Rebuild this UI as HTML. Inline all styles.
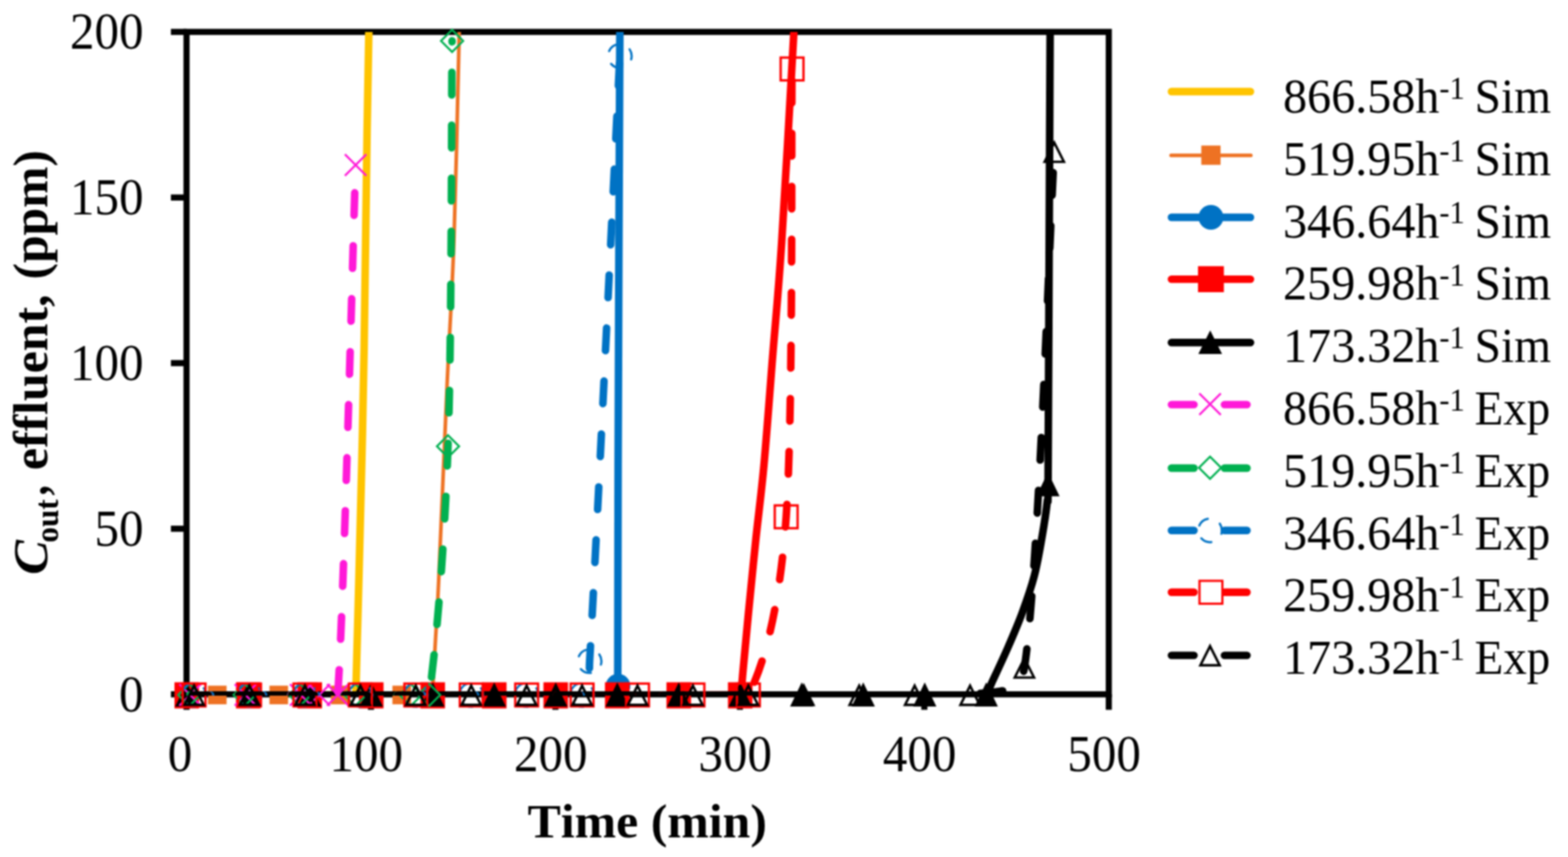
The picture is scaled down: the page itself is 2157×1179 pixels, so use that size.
<!DOCTYPE html>
<html lang="en"><head><meta charset="utf-8"><title>Breakthrough curves</title>
<style>html,body{margin:0;padding:0;background:#fff}body{width:2157px;height:1179px;overflow:hidden}svg{display:block;filter:blur(0.9px)}text{font-family:"Liberation Serif",serif;fill:#000;font-kerning:none;font-variant-ligatures:none}</style></head><body>
<svg width="2157" height="1179" viewBox="0 0 2157 1179" role="img" aria-label="Breakthrough curves: effluent concentration versus time">
<defs><clipPath id="pa"><rect x="256.6" y="43.9" width="1270.7" height="913.2"/></clipPath></defs>
<rect width="2157" height="1179" fill="#fff"/>
<g stroke="#000" stroke-width="8.4" fill="none" stroke-linecap="butt">
<rect x="256.6" y="43.9" width="1268.7" height="911.3"/>
<line x1="235.1" y1="955.2" x2="256.6" y2="955.2"/>
<line x1="235.1" y1="727.38" x2="256.6" y2="727.38"/>
<line x1="235.1" y1="499.55" x2="256.6" y2="499.55"/>
<line x1="235.1" y1="271.73" x2="256.6" y2="271.73"/>
<line x1="235.1" y1="43.9" x2="256.6" y2="43.9"/>
<line x1="256.6" y1="955.2" x2="256.6" y2="976.5"/>
<line x1="510.34" y1="955.2" x2="510.34" y2="976.5"/>
<line x1="764.08" y1="955.2" x2="764.08" y2="976.5"/>
<line x1="1017.82" y1="955.2" x2="1017.82" y2="976.5"/>
<line x1="1271.56" y1="955.2" x2="1271.56" y2="976.5"/>
<line x1="1525.3" y1="955.2" x2="1525.3" y2="976.5"/>
</g>
<text transform="translate(163.673 978.605) scale(0.991 1.046)" font-size="68">0</text>
<text transform="translate(129.979 750.78) scale(0.991 1.046)" font-size="68">50</text>
<text transform="translate(96.285 522.955) scale(0.991 1.046)" font-size="68">100</text>
<text transform="translate(96.285 295.13) scale(0.991 1.046)" font-size="68">150</text>
<text transform="translate(96.285 67.305) scale(0.991 1.046)" font-size="68">200</text>
<text transform="translate(230.853 1060.702) scale(0.991 1.05)" font-size="68">0</text>
<text transform="translate(453.299 1060.702) scale(0.991 1.05)" font-size="68">100</text>
<text transform="translate(707.039 1060.702) scale(0.991 1.05)" font-size="68">200</text>
<text transform="translate(960.779 1060.702) scale(0.991 1.05)" font-size="68">300</text>
<text transform="translate(1214.519 1060.702) scale(0.991 1.05)" font-size="68">400</text>
<text transform="translate(1468.259 1060.702) scale(0.991 1.05)" font-size="68">500</text>
<text transform="translate(725.729 1151.713) scale(1.008 0.973)" font-size="68" font-weight="bold">Time (min)</text>
<text transform="translate(65.3 0) rotate(-90) scale(1 1)" font-size="68" font-weight="bold"><tspan x="-790.649" textLength="47.784" lengthAdjust="spacingAndGlyphs" font-weight="bold" font-style="italic">C</tspan><tspan x="-746.429" textLength="59.417" lengthAdjust="spacingAndGlyphs" dy="14.3" font-size="47">out</tspan><tspan x="-681.756" textLength="28.682" lengthAdjust="spacingAndGlyphs" dy="-14.3">, </tspan><tspan x="-646.742" textLength="258.781" lengthAdjust="spacingAndGlyphs">effluent, </tspan><tspan x="-384.599" textLength="178.198" lengthAdjust="spacingAndGlyphs">(ppm)</tspan></text>
<path clip-path="url(#pa)" d="M256.6 956.1C280.5 956.1 362.77 956.1 400 956.1C437.23 956.1 465.12 955.78 480 956.1C494.88 956.42 487.63 961.52 489.3 958C490.97 954.48 489.25 962.55 490 935C490.75 907.45 492.53 841.87 493.8 792.7C495.07 743.53 496.42 692.12 497.6 640C498.78 587.88 499.67 556.67 500.9 480C502.13 403.33 503.92 252.68 505 180C506.08 107.32 506.9 73.9 507.4 43.9C507.9 13.9 507.9 7.32 508 0" fill="none" stroke="#FFC400" stroke-width="10.4" stroke-linejoin="round" stroke-linecap="round"/>
<path clip-path="url(#pa)" d="M256.6 956.1C297.17 956.1 445.27 956.1 500 956.1C554.73 956.1 569.25 955.78 585 956.1C600.75 956.42 592.67 961.52 594.5 958C596.33 954.48 595.25 947.77 596 935C596.75 922.23 597.77 903.9 599 881.4C600.23 858.9 600.73 858.57 603.4 800C606.07 741.43 611.48 608.33 615 530C618.52 451.67 621.73 410 624.5 330C627.27 250 630.3 105 631.6 50C632.9 -5 632.18 8.33 632.3 0" fill="none" stroke="#EE7223" stroke-width="5" stroke-linejoin="round" stroke-linecap="round"/>
<rect x="243.8" y="943.3" width="25.6" height="25.6" fill="#EE7223"/>
<rect x="286.09" y="943.3" width="25.6" height="25.6" fill="#EE7223"/>
<rect x="328.38" y="943.3" width="25.6" height="25.6" fill="#EE7223"/>
<rect x="370.67" y="943.3" width="25.6" height="25.6" fill="#EE7223"/>
<rect x="412.96" y="943.3" width="25.6" height="25.6" fill="#EE7223"/>
<rect x="455.25" y="943.3" width="25.6" height="25.6" fill="#EE7223"/>
<rect x="497.54" y="943.3" width="25.6" height="25.6" fill="#EE7223"/>
<rect x="539.83" y="943.3" width="25.6" height="25.6" fill="#EE7223"/>
<rect x="582.12" y="943.3" width="25.6" height="25.6" fill="#EE7223"/>
<path clip-path="url(#pa)" d="M256.6 956.1L849.6 956.1L849.8 944L850.3 640L851.4 340L852.7 43.9L852.9 0" fill="none" stroke="#0072C4" stroke-width="10.4" stroke-linejoin="round" stroke-linecap="round"/>
<circle cx="256.9" cy="956.1" r="17" fill="#0072C4"/>
<circle cx="341.5" cy="956.1" r="17" fill="#0072C4"/>
<circle cx="426.1" cy="956.1" r="17" fill="#0072C4"/>
<circle cx="510.7" cy="956.1" r="17" fill="#0072C4"/>
<circle cx="595.3" cy="956.1" r="17" fill="#0072C4"/>
<circle cx="679.9" cy="956.1" r="17" fill="#0072C4"/>
<circle cx="764.5" cy="956.1" r="17" fill="#0072C4"/>
<circle cx="850.2" cy="944" r="17" fill="#0072C4"/>
<path clip-path="url(#pa)" d="M256.6 956.1C363.83 956.1 774.43 956.1 900 956.1C1025.57 956.1 990.12 955.78 1010 956.1C1029.88 956.42 1017.52 960.68 1019.3 958C1021.08 955.32 1020.18 946.33 1020.7 940C1021.22 933.67 1020.92 936.07 1022.4 920C1023.88 903.93 1026.7 873.3 1029.6 843.6C1032.5 813.9 1036.25 775.73 1039.8 741.8C1043.35 707.87 1047.08 681.52 1050.9 640C1054.72 598.48 1058.65 543.53 1062.7 492.7C1066.75 441.87 1070.3 409.8 1075.2 335C1080.1 260.2 1088.97 99.73 1092.1 43.9C1095.23 -11.93 1093.68 7.32 1094 0" fill="none" stroke="#FF0000" stroke-width="10.4" stroke-linejoin="round" stroke-linecap="round"/>
<rect x="240" y="938.6" width="33.8" height="36" fill="#FF0000"/>
<rect x="324.6" y="938.6" width="33.8" height="36" fill="#FF0000"/>
<rect x="409.2" y="938.6" width="33.8" height="36" fill="#FF0000"/>
<rect x="493.8" y="938.6" width="33.8" height="36" fill="#FF0000"/>
<rect x="578.4" y="938.6" width="33.8" height="36" fill="#FF0000"/>
<rect x="663" y="938.6" width="33.8" height="36" fill="#FF0000"/>
<rect x="747.6" y="938.6" width="33.8" height="36" fill="#FF0000"/>
<rect x="832.2" y="938.6" width="33.8" height="36" fill="#FF0000"/>
<rect x="916.8" y="938.6" width="33.8" height="36" fill="#FF0000"/>
<rect x="1001.4" y="938.6" width="33.8" height="36" fill="#FF0000"/>
<path clip-path="url(#pa)" d="M256.6 956.1C413.83 956.1 1019.43 956.1 1200 956.1C1380.57 956.1 1313.93 956.1 1340 956.1C1366.07 956.1 1352.4 958.78 1356.4 956.1C1360.4 953.42 1359.07 950.68 1364 940C1368.93 929.32 1379 908.07 1386 892C1393 875.93 1399.88 860.15 1406 843.6C1412.12 827.05 1418.22 809.67 1422.7 792.7C1427.18 775.73 1429.93 758.77 1432.9 741.8C1435.87 724.83 1439.02 705.37 1440.5 690.9C1441.98 676.43 1441.33 715.15 1441.8 655C1442.27 594.85 1442.83 431.85 1443.3 330C1443.77 228.15 1444.35 98.9 1444.6 43.9C1444.85 -11.1 1444.77 7.32 1444.8 0" fill="none" stroke="#000000" stroke-width="10.4" stroke-linejoin="round" stroke-linecap="round"/>
<path d="M256.9 938.74L272.9 971.94L240.9 971.94Z" fill="#000000"/>
<path d="M341.5 938.74L357.5 971.94L325.5 971.94Z" fill="#000000"/>
<path d="M426.1 938.74L442.1 971.94L410.1 971.94Z" fill="#000000"/>
<path d="M510.7 938.74L526.7 971.94L494.7 971.94Z" fill="#000000"/>
<path d="M595.3 938.74L611.3 971.94L579.3 971.94Z" fill="#000000"/>
<path d="M679.9 938.74L695.9 971.94L663.9 971.94Z" fill="#000000"/>
<path d="M764.5 938.74L780.5 971.94L748.5 971.94Z" fill="#000000"/>
<path d="M849.1 938.74L865.1 971.94L833.1 971.94Z" fill="#000000"/>
<path d="M933.7 938.74L949.7 971.94L917.7 971.94Z" fill="#000000"/>
<path d="M1018.3 938.74L1034.3 971.94L1002.3 971.94Z" fill="#000000"/>
<path d="M1102.9 938.74L1118.9 971.94L1086.9 971.94Z" fill="#000000"/>
<path d="M1187.5 938.74L1203.5 971.94L1171.5 971.94Z" fill="#000000"/>
<path d="M1272.1 938.74L1288.1 971.94L1256.1 971.94Z" fill="#000000"/>
<path d="M1356.7 938.74L1372.7 971.94L1340.7 971.94Z" fill="#000000"/>
<path d="M1441.6 649.64L1457.6 682.84L1425.6 682.84Z" fill="#000000"/>
<path clip-path="url(#pa)" d="M261.5 956.1C274.19 956.1 312.25 956.1 337.63 956.1C363.01 956.1 396.83 956.1 413.76 956.1C426.48 956.1 430.73 956.1 439.2 956.1C447.67 956.1 463.73 968.77 464.6 956.1C472.93 834.6 485.1 348.6 489.2 227.1" fill="none" stroke="#FF18D8" stroke-width="10.4" stroke-linejoin="round" stroke-linecap="round" stroke-dasharray="31 41.9" stroke-dashoffset="7.35"/>
<path d="M246.75 941.35L276.25 970.85M246.75 970.85L276.25 941.35" fill="none" stroke="#FF18D8" stroke-width="2.8"/>
<path d="M322.88 941.35L352.38 970.85M322.88 970.85L352.38 941.35" fill="none" stroke="#FF18D8" stroke-width="2.8"/>
<path d="M399.01 941.35L428.51 970.85M399.01 970.85L428.51 941.35" fill="none" stroke="#FF18D8" stroke-width="2.8"/>
<path d="M424.45 941.35L453.95 970.85M424.45 970.85L453.95 941.35" fill="none" stroke="#FF18D8" stroke-width="2.8"/>
<path d="M449.85 941.35L479.35 970.85M449.85 970.85L479.35 941.35" fill="none" stroke="#FF18D8" stroke-width="2.8"/>
<path d="M474.45 212.35L503.95 241.85M474.45 241.85L503.95 212.35" fill="none" stroke="#FF18D8" stroke-width="2.8"/>
<path clip-path="url(#pa)" d="M260.4 956.1C273.09 956.1 311.15 956.1 336.53 956.1C361.91 956.1 387.28 956.1 412.66 956.1C438.04 956.1 463.41 956.1 488.79 956.1C514.17 956.1 548 956.1 564.92 956.1C577.61 956.1 588.42 968.65 590.3 956.1C598.86 899.08 611.03 763.98 616.3 614C621.57 464.02 620.97 149.17 621.9 56.2" fill="none" stroke="#00B050" stroke-width="10.4" stroke-linejoin="round" stroke-linecap="round" stroke-dasharray="31 41.9" stroke-dashoffset="5.6"/>
<path d="M260.4 940.85L275.65 956.1L260.4 971.35L245.15 956.1Z" fill="none" stroke="#00B050" stroke-width="2.8"/>
<path d="M336.53 940.85L351.78 956.1L336.53 971.35L321.28 956.1Z" fill="none" stroke="#00B050" stroke-width="2.8"/>
<path d="M412.66 940.85L427.91 956.1L412.66 971.35L397.41 956.1Z" fill="none" stroke="#00B050" stroke-width="2.8"/>
<path d="M488.79 940.85L504.04 956.1L488.79 971.35L473.54 956.1Z" fill="none" stroke="#00B050" stroke-width="2.8"/>
<path d="M564.92 940.85L580.17 956.1L564.92 971.35L549.67 956.1Z" fill="none" stroke="#00B050" stroke-width="2.8"/>
<path d="M590.3 940.85L605.55 956.1L590.3 971.35L575.05 956.1Z" fill="none" stroke="#00B050" stroke-width="2.8"/>
<path d="M616.3 598.75L631.55 614L616.3 629.25L601.05 614Z" fill="none" stroke="#00B050" stroke-width="2.8"/>
<path d="M621.9 40.95L637.15 56.2L621.9 71.45L606.65 56.2Z" fill="none" stroke="#00B050" stroke-width="2.8"/>
<path clip-path="url(#pa)" d="M267 956.1C279.71 956.1 317.83 956.1 343.25 956.1C368.67 956.1 394.08 956.1 419.5 956.1C444.92 956.1 470.33 956.1 495.75 956.1C521.17 956.1 546.58 956.1 572 956.1C597.42 956.1 622.83 956.1 648.25 956.1C673.67 956.1 699.08 956.1 724.5 956.1C749.92 956.1 786.32 963.85 800.75 956.1C815.18 948.35 809.69 933.38 811.1 909.6C819.76 763.08 845.77 215.77 852.7 77" fill="none" stroke="#0072C4" stroke-width="10.4" stroke-linejoin="round" stroke-linecap="round" stroke-dasharray="31 41.9" stroke-dashoffset="8.29"/>
<circle cx="267" cy="956.1" r="16.25" fill="none" stroke="#0072C4" stroke-width="3" stroke-dasharray="15.32 18.72" stroke-dashoffset="10.49" stroke-linecap="round"/>
<circle cx="343.25" cy="956.1" r="16.25" fill="none" stroke="#0072C4" stroke-width="3" stroke-dasharray="15.32 18.72" stroke-dashoffset="10.49" stroke-linecap="round"/>
<circle cx="419.5" cy="956.1" r="16.25" fill="none" stroke="#0072C4" stroke-width="3" stroke-dasharray="15.32 18.72" stroke-dashoffset="10.49" stroke-linecap="round"/>
<circle cx="495.75" cy="956.1" r="16.25" fill="none" stroke="#0072C4" stroke-width="3" stroke-dasharray="15.32 18.72" stroke-dashoffset="10.49" stroke-linecap="round"/>
<circle cx="572" cy="956.1" r="16.25" fill="none" stroke="#0072C4" stroke-width="3" stroke-dasharray="15.32 18.72" stroke-dashoffset="10.49" stroke-linecap="round"/>
<circle cx="648.25" cy="956.1" r="16.25" fill="none" stroke="#0072C4" stroke-width="3" stroke-dasharray="15.32 18.72" stroke-dashoffset="10.49" stroke-linecap="round"/>
<circle cx="724.5" cy="956.1" r="16.25" fill="none" stroke="#0072C4" stroke-width="3" stroke-dasharray="15.32 18.72" stroke-dashoffset="10.49" stroke-linecap="round"/>
<circle cx="800.75" cy="956.1" r="16.25" fill="none" stroke="#0072C4" stroke-width="3" stroke-dasharray="15.32 18.72" stroke-dashoffset="10.49" stroke-linecap="round"/>
<circle cx="811.1" cy="909.6" r="16.25" fill="none" stroke="#0072C4" stroke-width="3" stroke-dasharray="15.32 18.72" stroke-dashoffset="10.49" stroke-linecap="round"/>
<circle cx="852.7" cy="77" r="16.25" fill="none" stroke="#0072C4" stroke-width="3" stroke-dasharray="15.32 18.72" stroke-dashoffset="10.49" stroke-linecap="round"/>
<path clip-path="url(#pa)" d="M267 956.1C279.71 956.1 317.83 956.1 343.25 956.1C368.67 956.1 394.08 956.1 419.5 956.1C444.92 956.1 470.33 956.1 495.75 956.1C521.17 956.1 546.58 956.1 572 956.1C597.42 956.1 622.83 956.1 648.25 956.1C673.67 956.1 699.08 956.1 724.5 956.1C749.92 956.1 775.33 956.1 800.75 956.1C826.17 956.1 851.58 956.1 877 956.1C902.42 956.1 927.83 956.1 953.25 956.1C978.67 956.1 1011.82 989.88 1029.5 956.1C1050.88 915.25 1072.78 835.97 1081.5 711C1091.52 567.47 1088.25 197.58 1089.6 94.9" fill="none" stroke="#FF0000" stroke-width="10.4" stroke-linejoin="round" stroke-linecap="round" stroke-dasharray="31 41.9" stroke-dashoffset="11.43"/>
<rect x="251.3" y="940.4" width="31.4" height="31.4" fill="none" stroke="#FF0000" stroke-width="3.2"/>
<rect x="327.55" y="940.4" width="31.4" height="31.4" fill="none" stroke="#FF0000" stroke-width="3.2"/>
<rect x="403.8" y="940.4" width="31.4" height="31.4" fill="none" stroke="#FF0000" stroke-width="3.2"/>
<rect x="480.05" y="940.4" width="31.4" height="31.4" fill="none" stroke="#FF0000" stroke-width="3.2"/>
<rect x="556.3" y="940.4" width="31.4" height="31.4" fill="none" stroke="#FF0000" stroke-width="3.2"/>
<rect x="632.55" y="940.4" width="31.4" height="31.4" fill="none" stroke="#FF0000" stroke-width="3.2"/>
<rect x="708.8" y="940.4" width="31.4" height="31.4" fill="none" stroke="#FF0000" stroke-width="3.2"/>
<rect x="785.05" y="940.4" width="31.4" height="31.4" fill="none" stroke="#FF0000" stroke-width="3.2"/>
<rect x="861.3" y="940.4" width="31.4" height="31.4" fill="none" stroke="#FF0000" stroke-width="3.2"/>
<rect x="937.55" y="940.4" width="31.4" height="31.4" fill="none" stroke="#FF0000" stroke-width="3.2"/>
<rect x="1013.8" y="940.4" width="31.4" height="31.4" fill="none" stroke="#FF0000" stroke-width="3.2"/>
<rect x="1065.8" y="695.3" width="31.4" height="31.4" fill="none" stroke="#FF0000" stroke-width="3.2"/>
<rect x="1073.9" y="79.2" width="31.4" height="31.4" fill="none" stroke="#FF0000" stroke-width="3.2"/>
<path clip-path="url(#pa)" d="M267 956.1C279.71 956.1 317.83 956.1 343.25 956.1C368.67 956.1 394.08 956.1 419.5 956.1C444.92 956.1 470.33 956.1 495.75 956.1C521.17 956.1 546.58 956.1 572 956.1C597.42 956.1 622.83 956.1 648.25 956.1C673.67 956.1 699.08 956.1 724.5 956.1C749.92 956.1 775.33 956.1 800.75 956.1C826.17 956.1 851.58 956.1 877 956.1C902.42 956.1 927.83 956.1 953.25 956.1C978.67 956.1 1004.08 956.1 1029.5 956.1C1054.92 956.1 1080.33 956.1 1105.75 956.1C1131.17 956.1 1156.58 956.1 1182 956.1C1207.42 956.1 1232.83 956.1 1258.25 956.1C1283.67 956.1 1309.34 962.37 1334.5 956.1C1359.66 949.83 1402.8 959.82 1409.2 918.5C1428.5 793.98 1443.45 327.25 1450.3 209" fill="none" stroke="#000000" stroke-width="10.4" stroke-linejoin="round" stroke-linecap="round" stroke-dasharray="31 41.9" stroke-dashoffset="11.56"/>
<path d="M267 943.4L280.25 969.7L253.75 969.7Z" fill="none" stroke="#000000" stroke-width="3.4" stroke-linejoin="miter"/>
<path d="M343.25 943.4L356.5 969.7L330 969.7Z" fill="none" stroke="#000000" stroke-width="3.4" stroke-linejoin="miter"/>
<path d="M419.5 943.4L432.75 969.7L406.25 969.7Z" fill="none" stroke="#000000" stroke-width="3.4" stroke-linejoin="miter"/>
<path d="M495.75 943.4L509 969.7L482.5 969.7Z" fill="none" stroke="#000000" stroke-width="3.4" stroke-linejoin="miter"/>
<path d="M572 943.4L585.25 969.7L558.75 969.7Z" fill="none" stroke="#000000" stroke-width="3.4" stroke-linejoin="miter"/>
<path d="M648.25 943.4L661.5 969.7L635 969.7Z" fill="none" stroke="#000000" stroke-width="3.4" stroke-linejoin="miter"/>
<path d="M724.5 943.4L737.75 969.7L711.25 969.7Z" fill="none" stroke="#000000" stroke-width="3.4" stroke-linejoin="miter"/>
<path d="M800.75 943.4L814 969.7L787.5 969.7Z" fill="none" stroke="#000000" stroke-width="3.4" stroke-linejoin="miter"/>
<path d="M877 943.4L890.25 969.7L863.75 969.7Z" fill="none" stroke="#000000" stroke-width="3.4" stroke-linejoin="miter"/>
<path d="M953.25 943.4L966.5 969.7L940 969.7Z" fill="none" stroke="#000000" stroke-width="3.4" stroke-linejoin="miter"/>
<path d="M1029.5 943.4L1042.75 969.7L1016.25 969.7Z" fill="none" stroke="#000000" stroke-width="3.4" stroke-linejoin="miter"/>
<path d="M1105.75 943.4L1119 969.7L1092.5 969.7Z" fill="none" stroke="#000000" stroke-width="3.4" stroke-linejoin="miter"/>
<path d="M1182 943.4L1195.25 969.7L1168.75 969.7Z" fill="none" stroke="#000000" stroke-width="3.4" stroke-linejoin="miter"/>
<path d="M1258.25 943.4L1271.5 969.7L1245 969.7Z" fill="none" stroke="#000000" stroke-width="3.4" stroke-linejoin="miter"/>
<path d="M1334.5 943.4L1347.75 969.7L1321.25 969.7Z" fill="none" stroke="#000000" stroke-width="3.4" stroke-linejoin="miter"/>
<path d="M1409.2 905.8L1422.45 932.1L1395.95 932.1Z" fill="none" stroke="#000000" stroke-width="3.4" stroke-linejoin="miter"/>
<path d="M1450.3 196.3L1463.55 222.6L1437.05 222.6Z" fill="none" stroke="#000000" stroke-width="3.4" stroke-linejoin="miter"/>
<path d="M1611.5 126L1720.2 126" fill="none" stroke="#FFC400" stroke-width="10.4" stroke-linecap="round"/>
<text transform="translate(1764.978 155) scale(0.988 1.012)" font-size="67"><tspan x="0" textLength="217.75" lengthAdjust="spacingAndGlyphs">866.58h</tspan><tspan x="217.617" textLength="35.396" lengthAdjust="spacingAndGlyphs" dy="-18.874" font-size="44.5">-1</tspan><tspan x="250.279" textLength="122.943" lengthAdjust="spacingAndGlyphs" dy="18.874"> Sim</tspan></text>
<path d="M1611 213.7L1720.7 213.7" fill="none" stroke="#EE7223" stroke-width="5" stroke-linecap="round"/>
<rect x="1652.55" y="200.25" width="26.5" height="26.5" fill="#EE7223"/>
<text transform="translate(1764.978 240.8) scale(0.988 1.012)" font-size="67"><tspan x="-0" textLength="217.75" lengthAdjust="spacingAndGlyphs">519.95h</tspan><tspan x="217.617" textLength="35.396" lengthAdjust="spacingAndGlyphs" dy="-18.874" font-size="44.5">-1</tspan><tspan x="250.279" textLength="122.943" lengthAdjust="spacingAndGlyphs" dy="18.874"> Sim</tspan></text>
<path d="M1611.5 299L1720.2 299" fill="none" stroke="#0072C4" stroke-width="10.4" stroke-linecap="round"/>
<circle cx="1665.8" cy="299" r="17.1" fill="#0072C4"/>
<text transform="translate(1764.978 326.6) scale(0.988 1.012)" font-size="67"><tspan x="0" textLength="217.75" lengthAdjust="spacingAndGlyphs">346.64h</tspan><tspan x="217.617" textLength="35.396" lengthAdjust="spacingAndGlyphs" dy="-18.874" font-size="44.5">-1</tspan><tspan x="250.279" textLength="122.943" lengthAdjust="spacingAndGlyphs" dy="18.874"> Sim</tspan></text>
<path d="M1611.5 384.1L1720.2 384.1" fill="none" stroke="#FF0000" stroke-width="10.4" stroke-linecap="round"/>
<rect x="1648" y="366.2" width="35.6" height="35.8" fill="#FF0000"/>
<text transform="translate(1764.978 412.4) scale(0.988 1.012)" font-size="67"><tspan x="0" textLength="217.75" lengthAdjust="spacingAndGlyphs">259.98h</tspan><tspan x="217.617" textLength="35.396" lengthAdjust="spacingAndGlyphs" dy="-18.874" font-size="44.5">-1</tspan><tspan x="250.279" textLength="122.943" lengthAdjust="spacingAndGlyphs" dy="18.874"> Sim</tspan></text>
<path d="M1611.5 471.2L1720.2 471.2" fill="none" stroke="#000000" stroke-width="10.4" stroke-linecap="round"/>
<path d="M1664.8 454.45L1681.1 487.05L1648.5 487.05Z" fill="#000000"/>
<text transform="translate(1764.978 498.2) scale(0.988 1.012)" font-size="67"><tspan x="0" textLength="217.75" lengthAdjust="spacingAndGlyphs">173.32h</tspan><tspan x="217.617" textLength="35.396" lengthAdjust="spacingAndGlyphs" dy="-18.874" font-size="44.5">-1</tspan><tspan x="250.279" textLength="122.943" lengthAdjust="spacingAndGlyphs" dy="18.874"> Sim</tspan></text>
<path d="M1611.5 556.6L1716.2 556.6" fill="none" stroke="#FF18D8" stroke-width="10.4" stroke-linecap="round" stroke-dasharray="31 41.9"/>
<path d="M1649.85 541.35L1679.35 570.85M1649.85 570.85L1679.35 541.35" fill="none" stroke="#FF18D8" stroke-width="2.8"/>
<text transform="translate(1764.978 584) scale(0.988 1.012)" font-size="67"><tspan x="0" textLength="217.75" lengthAdjust="spacingAndGlyphs">866.58h</tspan><tspan x="217.617" textLength="35.396" lengthAdjust="spacingAndGlyphs" dy="-18.874" font-size="44.5">-1</tspan><tspan x="250.344" textLength="121.667" lengthAdjust="spacingAndGlyphs" dy="18.874"> Exp</tspan></text>
<path d="M1611.5 644L1716.2 644" fill="none" stroke="#00B050" stroke-width="10.4" stroke-linecap="round" stroke-dasharray="31 41.9"/>
<path d="M1664.6 628.25L1679.85 643.5L1664.6 658.75L1649.35 643.5Z" fill="none" stroke="#00B050" stroke-width="2.8"/>
<text transform="translate(1764.978 669.8) scale(0.988 1.012)" font-size="67"><tspan x="-0" textLength="217.75" lengthAdjust="spacingAndGlyphs">519.95h</tspan><tspan x="217.617" textLength="35.396" lengthAdjust="spacingAndGlyphs" dy="-18.874" font-size="44.5">-1</tspan><tspan x="250.344" textLength="121.667" lengthAdjust="spacingAndGlyphs" dy="18.874"> Exp</tspan></text>
<path d="M1611.5 729.7L1716.2 729.7" fill="none" stroke="#0072C4" stroke-width="10.4" stroke-linecap="round" stroke-dasharray="31 41.9"/>
<circle cx="1664.6" cy="729.7" r="16.25" fill="none" stroke="#0072C4" stroke-width="3" stroke-dasharray="15.32 18.72" stroke-dashoffset="10.49" stroke-linecap="round"/>
<text transform="translate(1764.978 755.6) scale(0.988 1.012)" font-size="67"><tspan x="0" textLength="217.75" lengthAdjust="spacingAndGlyphs">346.64h</tspan><tspan x="217.617" textLength="35.396" lengthAdjust="spacingAndGlyphs" dy="-18.874" font-size="44.5">-1</tspan><tspan x="250.344" textLength="121.667" lengthAdjust="spacingAndGlyphs" dy="18.874"> Exp</tspan></text>
<path d="M1611.5 814.8L1716.2 814.8" fill="none" stroke="#FF0000" stroke-width="10.4" stroke-linecap="round" stroke-dasharray="31 41.9"/>
<rect x="1650.05" y="799.05" width="31.5" height="31.5" fill="#fff" stroke="#FF0000" stroke-width="3"/>
<text transform="translate(1764.978 841.4) scale(0.988 1.012)" font-size="67"><tspan x="0" textLength="217.75" lengthAdjust="spacingAndGlyphs">259.98h</tspan><tspan x="217.617" textLength="35.396" lengthAdjust="spacingAndGlyphs" dy="-18.874" font-size="44.5">-1</tspan><tspan x="250.344" textLength="121.667" lengthAdjust="spacingAndGlyphs" dy="18.874"> Exp</tspan></text>
<path d="M1611.5 901.6L1716.2 901.6" fill="none" stroke="#000000" stroke-width="10.4" stroke-linecap="round" stroke-dasharray="31 41.9"/>
<path d="M1664.6 888.9L1677.85 915.2L1651.35 915.2Z" fill="none" stroke="#000000" stroke-width="3.4" stroke-linejoin="miter"/>
<text transform="translate(1764.978 927.2) scale(0.988 1.012)" font-size="67"><tspan x="0" textLength="217.75" lengthAdjust="spacingAndGlyphs">173.32h</tspan><tspan x="217.617" textLength="35.396" lengthAdjust="spacingAndGlyphs" dy="-18.874" font-size="44.5">-1</tspan><tspan x="250.344" textLength="121.667" lengthAdjust="spacingAndGlyphs" dy="18.874"> Exp</tspan></text>
</svg></body></html>
